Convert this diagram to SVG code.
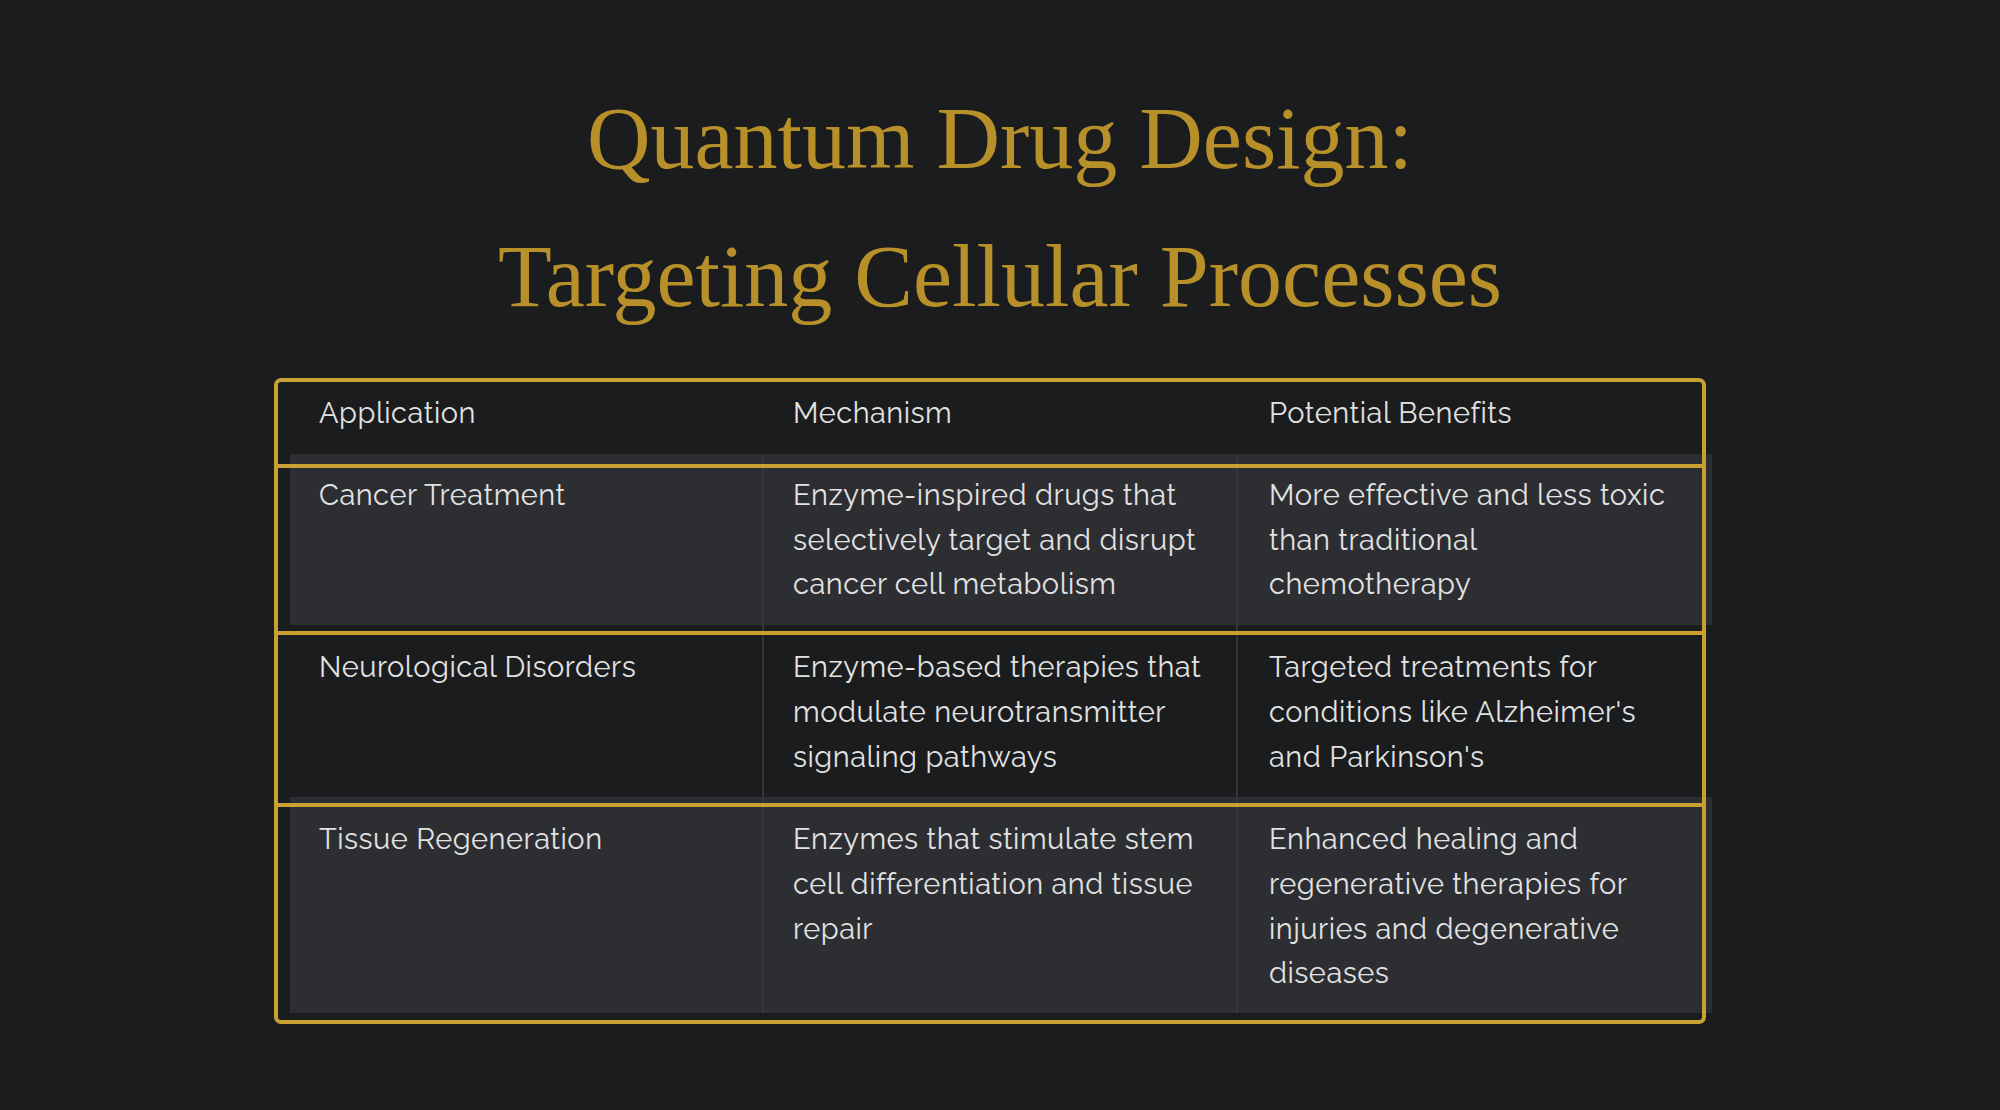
<svg xmlns="http://www.w3.org/2000/svg" width="2000" height="1110" viewBox="0 0 2000 1110">
<style>
.t{font-family:"Liberation Serif",serif;font-size:88px;fill:#b8902a;text-anchor:middle}
.c{font-family:Raleway,"Open Sans","Liberation Sans",sans-serif;font-size:29px;letter-spacing:0.5px;fill:#e2e2e2}
.sep{stroke:#3a3b3f;stroke-width:1.5}
.g{stroke:#c9a032;stroke-width:4;fill:none}
</style>
<rect width="2000" height="1110" fill="#1b1c1e"/>
<g id="title">
<text class="t" x="1000" y="168">Quantum Drug Design:</text>
<text class="t" x="1000" y="306">Targeting Cellular Processes</text>
</g>
<g id="table">
<rect x="290" y="454" width="1422" height="171" fill="#2d2e32"/>
<rect x="290" y="797" width="1422" height="216" fill="#2d2e32"/>
<line class="sep" x1="763" y1="454" x2="763" y2="1013"/>
<line class="sep" x1="1237" y1="454" x2="1237" y2="1013"/>
<rect class="g" x="276" y="380" width="1428" height="642" rx="5"/>
<line class="g" x1="276" y1="466" x2="1704" y2="466"/>
<line class="g" x1="276" y1="633" x2="1704" y2="633"/>
<line class="g" x1="276" y1="805" x2="1704" y2="805"/>
</g>
<g id="header">
<text class="c" x="319" y="423">Application</text>
<text class="c" x="793" y="423">Mechanism</text>
<text class="c" x="1269" y="423">Potential Benefits</text>
</g>
<g id="row1">
<text class="c" x="319" y="505">Cancer Treatment</text>
<text class="c" x="793" y="505">Enzyme-inspired drugs that</text>
<text class="c" x="793" y="550">selectively target and disrupt</text>
<text class="c" x="793" y="594">cancer cell metabolism</text>
<text class="c" x="1269" y="505">More effective and less toxic</text>
<text class="c" x="1269" y="550">than traditional</text>
<text class="c" x="1269" y="594">chemotherapy</text>
</g>
<g id="row2">
<text class="c" x="319" y="677">Neurological Disorders</text>
<text class="c" x="793" y="677">Enzyme-based therapies that</text>
<text class="c" x="793" y="722">modulate neurotransmitter</text>
<text class="c" x="793" y="767">signaling pathways</text>
<text class="c" x="1269" y="677">Targeted treatments for</text>
<text class="c" x="1269" y="722">conditions like Alzheimer's</text>
<text class="c" x="1269" y="767">and Parkinson's</text>
</g>
<g id="row3">
<text class="c" x="319" y="849">Tissue Regeneration</text>
<text class="c" x="793" y="849">Enzymes that stimulate stem</text>
<text class="c" x="793" y="894">cell differentiation and tissue</text>
<text class="c" x="793" y="939">repair</text>
<text class="c" x="1269" y="849">Enhanced healing and</text>
<text class="c" x="1269" y="894">regenerative therapies for</text>
<text class="c" x="1269" y="939">injuries and degenerative</text>
<text class="c" x="1269" y="983">diseases</text>
</g>
</svg>
